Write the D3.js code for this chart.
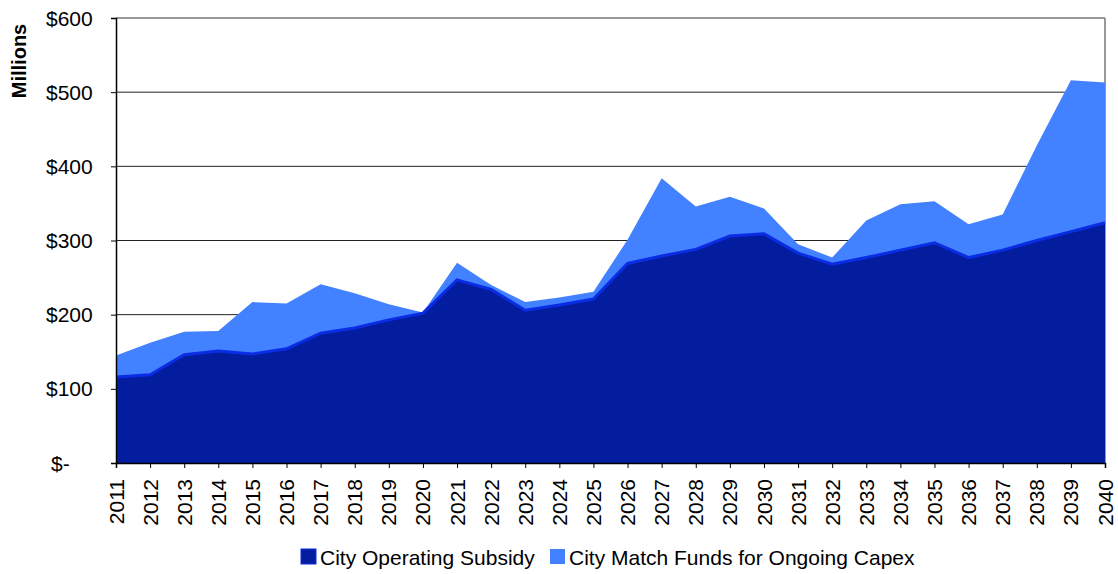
<!DOCTYPE html>
<html>
<head>
<meta charset="utf-8">
<script src="https://cdn.jsdelivr.net/npm/d3@7"></script>
<style>
  body { margin: 0; background: #fff; }
  text { font-family: Arial, "Liberation Sans", sans-serif; fill: #000; }
</style>
</head>
<body>
<div id="app"></div>
<script>
const width = 1118;
const height = 574;

const years = d3.range(2011, 2041);
// $ millions
const operatingSubsidy = [116, 119, 146, 151, 147, 154, 175, 182, 193, 202,
  247, 234, 206, 213, 221, 269, 279, 288, 306, 309,
  283, 268, 277, 287, 297, 277, 287, 300, 312, 324];
const capexMatch = [145, 162, 177, 178, 217, 215, 241, 229, 214, 203,
  270, 240, 217, 223, 231, 301, 384, 346, 359, 343,
  295, 277, 327, 349, 353, 322, 335, 428, 516, 513];
const yTicks = [0, 100, 200, 300, 400, 500, 600];
const seriesNames = ['City Operating Subsidy', 'City Match Funds for Ongoing Capex'];

const margin = {top: 18, right: 13, bottom: 111, left: 116};

const x = d3.scaleLinear()
  .domain([2011, 2040])
  .range([margin.left, width - margin.right]);
const y = d3.scaleLinear()
  .domain([0, 600])
  .range([height - margin.bottom, margin.top]);

const svg = d3.create('svg')
  .attr('width', width)
  .attr('height', height);

// gridlines
svg.append('g')
  .selectAll('line')
  .data(yTicks.filter((d)=>d > 0))
  .join('line')
  .attr('x1', x(2011))
  .attr('x2', x(2040))
  .attr('y1', (d)=>y(d))
  .attr('y2', (d)=>y(d))
  .attr('stroke', (d)=>d == 600 ? '#999' : '#222')
  .attr('stroke-width', (d)=>d == 600 ? 2 : 1);

// right border of plot area
svg.append('line')
  .attr('x1', x(2040)).attr('x2', x(2040))
  .attr('y1', y(600)).attr('y2', y(0))
  .attr('stroke', '#999')
  .attr('stroke-width', 2);

const data = years.map((yr, i)=>({year: yr, op: operatingSubsidy[i], total: capexMatch[i]}));

// capex match (top of the stack)
svg.append('path')
  .datum(data)
  .attr('fill', '#4281FF')
  .attr('d', d3.area()
    .x((d)=>x(d.year))
    .y0(y(0))
    .y1((d)=>y(d.total)));

// operating subsidy
svg.append('path')
  .datum(data)
  .attr('fill', '#041C9E')
  .attr('d', d3.area()
    .x((d)=>x(d.year))
    .y0(y(0))
    .y1((d)=>y(d.op)));

svg.append('path')
  .datum(data)
  .attr('fill', 'none')
  .attr('stroke', '#0A2DE4')
  .attr('stroke-width', 3)
  .attr('d', d3.line()
    .x((d)=>x(d.year))
    .y((d)=>y(d.op)));

// y axis
const yAxis = svg.append('g')
  .attr('transform', `translate(${margin.left},0)`)
  .call(d3.axisLeft(y).tickValues(yTicks).tickSize(5).tickFormat(''));
yAxis.select('.domain').attr('stroke', '#000').attr('stroke-width', 1.5);
yAxis.selectAll('.tick line').attr('stroke', '#000');

svg.append('g')
  .selectAll('text')
  .data(yTicks)
  .join('text')
  .attr('x', (d)=>d == 0 ? 51 : 46)
  .attr('y', (d)=>y(d))
  .attr('dy', '0.36em')
  .style('font-size', '21px')
  .text((d)=>d == 0 ? '$-' : `$${d}`);

// x axis
const xAxis = svg.append('g')
  .attr('transform', `translate(0,${y(0)})`)
  .call(d3.axisBottom(x).tickValues(years).tickSize(5).tickFormat(''));
xAxis.select('.domain').attr('stroke', '#000').attr('stroke-width', 1.5);
xAxis.selectAll('.tick line').attr('stroke', '#000');

svg.append('g')
  .selectAll('text')
  .data(years)
  .join('text')
  .attr('transform', (d)=>`translate(${x(d)},${y(0) + 16}) rotate(-90)`)
  .attr('text-anchor', 'end')
  .attr('dy', '0.36em')
  .style('font-size', '21px')
  .text((d)=>d);

// y title
svg.append('text')
  .attr('transform', 'translate(19,61) rotate(-90)')
  .attr('text-anchor', 'middle')
  .attr('dy', '0.36em')
  .style('font-size', '20px')
  .style('font-weight', 'bold')
  .text('Millions');

// legend
const legendColors = ['#041C9E', '#4281FF'];
const legendX = [301, 550];
const legend = svg.append('g');
seriesNames.forEach((name, i)=>{
  legend.append('rect')
    .attr('x', legendX[i])
    .attr('y', 549)
    .attr('width', 15)
    .attr('height', 15)
    .attr('fill', legendColors[i])
    .attr('stroke', i == 0 ? '#0A2DE4' : 'none');
  legend.append('text')
    .attr('x', legendX[i] + 19)
    .attr('y', 557)
    .attr('dy', '0.36em')
    .style('font-size', '21px')
    .text(name);
});

document.getElementById('app').appendChild(svg.node());
</script>
</body>
</html>
